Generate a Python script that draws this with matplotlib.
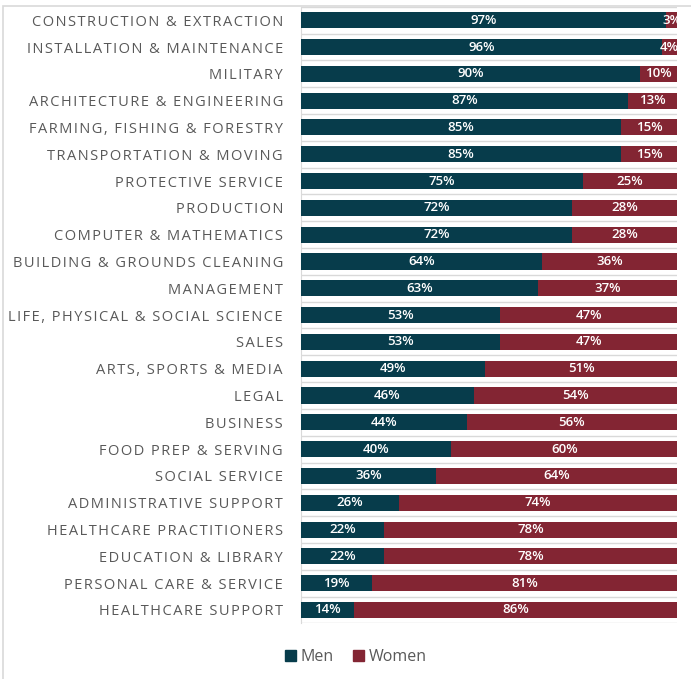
import matplotlib
matplotlib.use('Agg')
import matplotlib.pyplot as plt
from matplotlib.patches import Rectangle

categories = [
    "CONSTRUCTION & EXTRACTION", "INSTALLATION & MAINTENANCE", "MILITARY",
    "ARCHITECTURE & ENGINEERING", "FARMING, FISHING & FORESTRY",
    "TRANSPORTATION & MOVING", "PROTECTIVE SERVICE", "PRODUCTION",
    "COMPUTER & MATHEMATICS", "BUILDING & GROUNDS CLEANING", "MANAGEMENT",
    "LIFE, PHYSICAL & SOCIAL SCIENCE", "SALES", "ARTS, SPORTS & MEDIA",
    "LEGAL", "BUSINESS", "FOOD PREP & SERVING", "SOCIAL SERVICE",
    "ADMINISTRATIVE SUPPORT", "HEALTHCARE PRACTITIONERS",
    "EDUCATION & LIBRARY", "PERSONAL CARE & SERVICE", "HEALTHCARE SUPPORT",
]
men = [97, 96, 90, 87, 85, 85, 75, 72, 72, 64, 63, 53, 53, 49, 46, 44, 40, 36, 26, 22, 22, 19, 14]
women = [3, 4, 10, 13, 15, 15, 25, 28, 28, 36, 37, 47, 47, 51, 54, 56, 60, 64, 74, 78, 78, 81, 86]

men_color = '#073c4b'
women_color = '#832533'
label_color = '#595959'

plt.rcParams['font.family'] = ['Open Sans', 'DejaVu Sans']


def spaced(s):
    # fake letter spacing with hair spaces
    return '\u200a'.join(s)


fig = plt.figure(figsize=(6.91, 6.79), dpi=100)
ax = fig.add_axes([0.4356, 0.0819, 0.5444, 0.9081])

n = len(categories)
y = list(range(n))
ax.barh(y, men, height=0.6, color=men_color, zorder=3)
ax.barh(y, women, left=men, height=0.6, color=women_color, zorder=3)

for i in range(n):
    ax.text(men[i] / 2, i, f"{men[i]}%", ha='center', va='center',
            color='white', fontsize=9.5, fontweight='semibold', zorder=4, clip_on=True)
    ax.text(men[i] + women[i] / 2, i, f"{women[i]}%", ha='center', va='center',
            color='white', fontsize=9.5, fontweight='semibold', zorder=4, clip_on=True)

# separators between rows
for b in range(n + 1):
    ax.axhline(b - 0.5, color='#d9d9d9', lw=1, zorder=1)

ax.set_xlim(0, 100)
ax.set_ylim(n - 0.5, -0.5)
ax.set_yticks(y)
ax.set_yticklabels([spaced(c) for c in categories], fontsize=10.5, color=label_color)
ax.tick_params(axis='y', length=0, pad=13)
ax.set_xticks([])
for side in ['top', 'right', 'bottom']:
    ax.spines[side].set_visible(False)
ax.spines['left'].set_color('#d9d9d9')

handles = [Rectangle((0, 0), 1, 1, color=men_color), Rectangle((0, 0), 1, 1, color=women_color)]
fig.legend(handles, ['Men', 'Women'], loc='center', bbox_to_anchor=(0.515, 0.032),
           ncol=2, frameon=False, fontsize=11.5, labelcolor=label_color,
           handlelength=0.7, handleheight=0.7, handletextpad=0.3, columnspacing=1.2)

# chart border
fig.patches.append(Rectangle((3 / 691, -0.1), 1.2, 1 - 6 / 679 + 0.1, transform=fig.transFigure,
                             fill=False, edgecolor='#d9d9d9', lw=1.2))

fig.savefig('out.png', dpi=100, facecolor='white')
